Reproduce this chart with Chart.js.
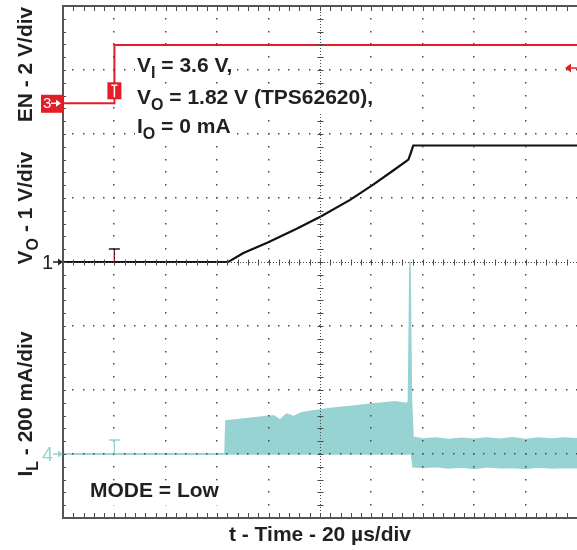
<!DOCTYPE html>
<html lang="en">
<head>
<meta charset="UTF-8">
<title>TPS62620 start-up, MODE = Low</title>
<style>
  html, body { margin: 0; padding: 0; background: #fff; }
  #scope { display: block; }
</style>
</head>
<body>
<canvas id="scope" width="577" height="550"></canvas>
<script src="https://cdn.jsdelivr.net/npm/chart.js@4/dist/chart.umd.min.js"></script>
<script>
// time axis in µs, 20 µs/div, 10 div
var timeDivs = 10, usPerDiv = 20;

// EN (2 V/div)
var enTime = [0, 20, 20, 200];
var enVolts = [0, 0, 1.82, 1.82];
var enTrigLevel = 1.1;

// VO (1 V/div)
var voTime = [0, 64.3, 70.2, 79.9, 90.9, 100.3, 111.7, 120.7, 128.5, 134.4, 135.3, 136.3, 200];
var voVolts = [0, 0, 0.14, 0.31, 0.52, 0.71, 0.97, 1.21, 1.43, 1.60, 1.70, 1.82, 1.82];

// IL (200 mA/div), switching ripple shown as upper / lower envelope
var ilTime = [0, 63.0, 63.4, 72.1, 79.9, 82.2, 84.4, 87.0, 89.6, 92.9,
              99.3, 104.5, 113.6, 120.1, 129.2, 133.7, 134.4, 135.0, 135.6, 136.2,
              140, 145, 150, 155, 160, 165, 170, 175, 180, 185,
              190, 195, 200];
var ilUpper = [0, 0, 103, 111, 118, 119, 106, 125, 117, 129,
               137, 143, 150, 156, 163, 158, 163, 600, 170, 52,
               47, 50, 45, 49, 46, 50, 46, 51, 45, 50,
               47, 50, 48];
var ilLower = [0, 0, 0, 0, 0, 0, 0, 0, 0, 0,
               0, 0, 0, 0, 0, 0, 0, 0, 0, -40,
               -42, -39, -44, -41, -45, -40, -43, -42, -45, -41,
               -44, -42, -43];

// channel ground offsets, in divisions from screen centre
var enOffset = 2.48, voOffset = 0, ilOffset = -3;

var RED = '#e31e26', CYAN = '#98d3d3', INK = '#231f20';
var FONT = '"Liberation Sans", Arial, sans-serif';

function pts(xs, ys) {
  return xs.map(function (t, i) { return { x: t, y: ys[i] }; });
}

function rangeFor(perDiv, offset) {
  return { min: (-4 - offset) * perDiv, max: (4 - offset) * perDiv };
}

// text with optional subscripts: parts = [[text, isSub], ...]
function richText(ctx, parts, x, y, size, align, clearBg) {
  var subSize = Math.round(size * 0.76);
  var w = 0;
  parts.forEach(function (p) {
    ctx.font = 'bold ' + (p[1] ? subSize : size) + 'px ' + FONT;
    w += ctx.measureText(p[0]).width;
  });
  var cx = align === 'center' ? x - w / 2 : x;
  if (clearBg) {
    var keep = ctx.fillStyle;
    ctx.fillStyle = '#fff';
    ctx.fillRect(cx - 2, y - size * 0.78, w + 4, size * 1.18);
    ctx.fillStyle = keep;
  }
  ctx.textAlign = 'left';
  ctx.textBaseline = 'alphabetic';
  parts.forEach(function (p) {
    ctx.font = 'bold ' + (p[1] ? subSize : size) + 'px ' + FONT;
    ctx.fillText(p[0], cx, p[1] ? y + 6 : y);
    cx += ctx.measureText(p[0]).width;
  });
}

function arrowRight(ctx, x0, x1, y, color) {
  ctx.strokeStyle = color;
  ctx.fillStyle = color;
  ctx.lineWidth = 1.5;
  ctx.beginPath();
  ctx.moveTo(x0, y);
  ctx.lineTo(x1 - 4, y);
  ctx.stroke();
  ctx.beginPath();
  ctx.moveTo(x1, y);
  ctx.lineTo(x1 - 5, y - 3.5);
  ctx.lineTo(x1 - 5, y + 3.5);
  ctx.closePath();
  ctx.fill();
}

var scopeGrid = {
  id: 'scopeGrid',
  afterDatasetsDraw: function (chart) {
    var ctx = chart.ctx, a = chart.chartArea;
    var xs = chart.scales.x, ys = chart.scales.yVO;
    var i, j, px, py;
    ctx.save();
    ctx.fillStyle = '#4a4a4a';
    // dotted major lines
    for (i = 1; i < timeDivs; i++) {
      if (i === timeDivs / 2) continue;
      px = Math.round(xs.getPixelForValue(i * usPerDiv));
      for (j = 0; j <= 40; j++) {
        py = Math.round(ys.getPixelForValue(-4 + j * 0.2));
        ctx.fillRect(px - 1, py - 1, 1.5, 1.5);
      }
    }
    for (i = -3; i <= 3; i++) {
      if (i === 0) continue;
      py = Math.round(ys.getPixelForValue(i));
      for (j = 0; j <= timeDivs * 5; j++) {
        px = Math.round(xs.getPixelForValue(j * usPerDiv / 5));
        ctx.fillRect(px - 1, py - 1, 1.5, 1.5);
      }
    }
    // centre lines with minor ticks
    var cx = Math.round(xs.getPixelForValue(timeDivs / 2 * usPerDiv)) + 0.5;
    var cy = Math.round(ys.getPixelForValue(0)) + 0.5;
    ctx.strokeStyle = '#4a4a4a';
    ctx.lineWidth = 1;
    ctx.setLineDash([1, 2]);
    ctx.beginPath();
    ctx.moveTo(cx, a.top); ctx.lineTo(cx, a.bottom);
    ctx.moveTo(a.left, cy); ctx.lineTo(a.right, cy);
    ctx.stroke();
    ctx.setLineDash([]);
    ctx.beginPath();
    for (j = 0; j <= 40; j++) {
      py = Math.round(ys.getPixelForValue(-4 + j * 0.2)) + 0.5;
      ctx.moveTo(cx - 3, py); ctx.lineTo(cx + 3, py);
    }
    for (j = 0; j <= timeDivs * 5; j++) {
      px = Math.round(xs.getPixelForValue(j * usPerDiv / 5)) + 0.5;
      ctx.moveTo(px, cy - 3); ctx.lineTo(px, cy + 3);
      // top and bottom border ticks
      ctx.moveTo(px, a.top); ctx.lineTo(px, a.top + 5);
      ctx.moveTo(px, a.bottom); ctx.lineTo(px, a.bottom - 5);
    }
    for (j = 0; j <= 40; j++) {
      py = Math.round(ys.getPixelForValue(-4 + j * 0.2)) + 0.5;
      ctx.moveTo(a.left, py); ctx.lineTo(a.left + 3, py);
    }
    ctx.stroke();
    // frame
    ctx.strokeStyle = '#555';
    ctx.lineWidth = 2;
    ctx.beginPath();
    ctx.moveTo(a.right + 2, a.top); ctx.lineTo(a.left, a.top);
    ctx.lineTo(a.left, a.bottom); ctx.lineTo(a.right + 2, a.bottom);
    ctx.stroke();
    ctx.restore();
  }
};

var scopeMarks = {
  id: 'scopeMarks',
  afterDraw: function (chart) {
    var ctx = chart.ctx, a = chart.chartArea;
    var xs = chart.scales.x;
    var gEN = chart.scales.yEN.getPixelForValue(0);
    var gVO = chart.scales.yVO.getPixelForValue(0);
    var gIL = chart.scales.yIL.getPixelForValue(0);
    var tx = xs.getPixelForValue(enTime[1]);
    ctx.save();

    // channel ground markers
    ctx.fillStyle = RED;
    ctx.fillRect(a.left - 22, gEN - 8.5, 22, 18);
    ctx.fillStyle = '#fff';
    ctx.font = '15px ' + FONT;
    ctx.textAlign = 'left';
    ctx.textBaseline = 'middle';
    ctx.fillText('3', a.left - 20, gEN + 1);
    arrowRight(ctx, a.left - 12, a.left - 2, gEN, '#fff');

    ctx.fillStyle = INK;
    ctx.font = '20px ' + FONT;
    ctx.fillText('1', a.left - 21, gVO + 1);
    arrowRight(ctx, a.left - 10, a.left, gVO, INK);

    ctx.fillStyle = CYAN;
    ctx.fillText('4', a.left - 21, gIL + 1);
    arrowRight(ctx, a.left - 10, a.left, gIL, CYAN);

    // trigger position marks
    ctx.fillStyle = RED;
    ctx.fillRect(tx - 7, gEN - 21, 14, 17);
    ctx.strokeStyle = '#fff';
    ctx.lineWidth = 1.5;
    ctx.beginPath();
    ctx.moveTo(tx - 3, gEN - 18); ctx.lineTo(tx + 3, gEN - 18);
    ctx.moveTo(tx, gEN - 18); ctx.lineTo(tx, gEN - 6);
    ctx.stroke();

    ctx.strokeStyle = INK;
    ctx.lineWidth = 1.3;
    ctx.beginPath();
    ctx.moveTo(tx - 5.5, gVO - 13); ctx.lineTo(tx + 5.5, gVO - 13);
    ctx.moveTo(tx, gVO - 13); ctx.lineTo(tx, gVO);
    ctx.stroke();
    ctx.strokeStyle = RED;
    ctx.lineWidth = 1;
    ctx.setLineDash([2, 2]);
    ctx.beginPath();
    ctx.moveTo(tx, gVO - 11); ctx.lineTo(tx, gVO);
    ctx.stroke();
    ctx.setLineDash([]);

    ctx.strokeStyle = CYAN;
    ctx.lineWidth = 1.3;
    ctx.beginPath();
    ctx.moveTo(tx - 5.5, gIL - 14); ctx.lineTo(tx + 5.5, gIL - 14);
    ctx.moveTo(tx, gIL - 14); ctx.lineTo(tx, gIL);
    ctx.stroke();

    // trigger level arrow on the right
    var tl = chart.scales.yEN.getPixelForValue(enTrigLevel);
    ctx.strokeStyle = RED;
    ctx.fillStyle = RED;
    ctx.lineWidth = 1.5;
    ctx.beginPath();
    ctx.moveTo(a.right, tl); ctx.lineTo(a.right - 8, tl);
    ctx.stroke();
    ctx.beginPath();
    ctx.moveTo(a.right - 12, tl);
    ctx.lineTo(a.right - 6, tl - 4.5);
    ctx.lineTo(a.right - 6, tl + 4.5);
    ctx.closePath();
    ctx.fill();

    // labels
    ctx.fillStyle = INK;
    richText(ctx, [['V'], ['I', true], [' = 3.6 V,']], 137, 72, 21, 'left', true);
    richText(ctx, [['V'], ['O', true], [' = 1.82 V (TPS62620),']], 137, 104, 21, 'left', true);
    richText(ctx, [['I'], ['O', true], [' = 0 mA']], 137, 133, 21, 'left', true);
    richText(ctx, [['MODE = Low']], 90, 497, 21, 'left', true);
    richText(ctx, [['t - Time - 20 µs/div']], (a.left + a.right) / 2, 541, 21, 'center');

    var side = [
      [[['EN - 2 V/div']], 64.5],
      [[['V'], ['O', true], [' - 1 V/div']], 208],
      [[['I'], ['L', true], [' - 200 mA/div']], 404]
    ];
    side.forEach(function (s) {
      ctx.save();
      ctx.translate(32, s[1]);
      ctx.rotate(-Math.PI / 2);
      richText(ctx, s[0], 0, 0, 21, 'center');
      ctx.restore();
    });
    ctx.restore();
  }
};

var enR = rangeFor(2, enOffset), voR = rangeFor(1, voOffset), ilR = rangeFor(200, ilOffset);

new Chart(document.getElementById('scope'), {
  type: 'line',
  data: {
    datasets: [
      { label: 'EN', data: pts(enTime, enVolts), yAxisID: 'yEN',
        borderColor: RED, borderWidth: 2, order: 1 },
      { label: 'VO', data: pts(voTime, voVolts), yAxisID: 'yVO',
        borderColor: '#111', borderWidth: 2.2, order: 2 },
      { label: 'IL max', data: pts(ilTime, ilUpper), yAxisID: 'yIL',
        borderColor: CYAN, backgroundColor: CYAN, borderWidth: 1.5, fill: '+1', order: 3 },
      { label: 'IL min', data: pts(ilTime, ilLower), yAxisID: 'yIL',
        borderColor: CYAN, borderWidth: 1.5, fill: false, order: 4 }
    ]
  },
  options: {
    responsive: false,
    animation: false,
    events: [],
    elements: { point: { radius: 0 }, line: { tension: 0 } },
    layout: { padding: { left: 63, right: 0, top: 6, bottom: 32 } },
    plugins: { legend: { display: false }, tooltip: { enabled: false } },
    scales: {
      x: { type: 'linear', min: 0, max: timeDivs * usPerDiv, display: false },
      yEN: { type: 'linear', min: enR.min, max: enR.max, display: false },
      yVO: { type: 'linear', min: voR.min, max: voR.max, display: false },
      yIL: { type: 'linear', min: ilR.min, max: ilR.max, display: false }
    }
  },
  plugins: [scopeGrid, scopeMarks]
});
</script>
</body>
</html>
